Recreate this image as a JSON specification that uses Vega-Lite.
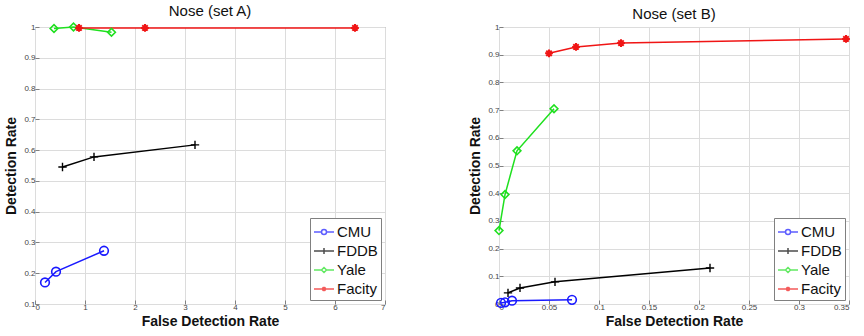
{
  "$schema": "https://vega.github.io/schema/vega-lite/v6.json",
  "padding": {"left": 4, "top": 3, "right": 8, "bottom": 2},
  "background": "white",
  "spacing": 82,
  "config": {
    "font": "Liberation Sans",
    "view": {"stroke": "#808080", "strokeWidth": 1},
    "axis": {
      "gridColor": "#dcdcdc", "gridWidth": 1, "domain": false,
      "tickColor": "#808080", "tickSize": -4,
      "labelFontSize": 8, "labelColor": "#444444",
      "titleFontSize": 14, "titleFontWeight": "bold", "titleColor": "#111111"
    },
    "title": {"fontSize": 15, "fontWeight": "normal", "color": "#111111", "offset": 1},
    "legend": {"title": null, "orient": "bottom-right", "offset": 4, "strokeColor": "#808080", "fillColor": "white", "padding": 3, "labelFontSize": 15, "labelColor": "#111111", "symbolSize": 400, "symbolStrokeWidth": 1.5, "labelOffset": 2, "rowPadding": 0}
  },
  "datasets": {
    "a": [
      {"series": "CMU", "i": 1, "x": 0.2, "y": 0.17},
      {"series": "CMU", "i": 2, "x": 0.42, "y": 0.205},
      {"series": "CMU", "i": 3, "x": 1.38, "y": 0.273},
      {"series": "FDDB", "i": 1, "x": 0.55, "y": 0.545},
      {"series": "FDDB", "i": 2, "x": 1.18, "y": 0.578},
      {"series": "FDDB", "i": 3, "x": 3.2, "y": 0.617},
      {"series": "Yale", "i": 1, "x": 0.38, "y": 0.995},
      {"series": "Yale", "i": 2, "x": 0.77, "y": 1.0},
      {"series": "Yale", "i": 3, "x": 1.53, "y": 0.983},
      {"series": "Facity", "i": 1, "x": 0.88, "y": 0.997},
      {"series": "Facity", "i": 2, "x": 2.2, "y": 0.997},
      {"series": "Facity", "i": 3, "x": 6.4, "y": 0.997}
    ],
    "b": [
      {"series": "CMU", "i": 1, "x": 0.002, "y": 0.004},
      {"series": "CMU", "i": 2, "x": 0.006, "y": 0.006},
      {"series": "CMU", "i": 3, "x": 0.013, "y": 0.012},
      {"series": "CMU", "i": 4, "x": 0.073, "y": 0.015},
      {"series": "FDDB", "i": 1, "x": 0.009, "y": 0.04},
      {"series": "FDDB", "i": 2, "x": 0.021, "y": 0.058},
      {"series": "FDDB", "i": 3, "x": 0.056, "y": 0.08},
      {"series": "FDDB", "i": 4, "x": 0.211, "y": 0.13},
      {"series": "Yale", "i": 1, "x": 0.0, "y": 0.265},
      {"series": "Yale", "i": 2, "x": 0.006, "y": 0.395},
      {"series": "Yale", "i": 3, "x": 0.018, "y": 0.553},
      {"series": "Yale", "i": 4, "x": 0.055, "y": 0.705},
      {"series": "Facity", "i": 1, "x": 0.05, "y": 0.905},
      {"series": "Facity", "i": 2, "x": 0.077, "y": 0.928},
      {"series": "Facity", "i": 3, "x": 0.122, "y": 0.942},
      {"series": "Facity", "i": 4, "x": 0.347, "y": 0.957}
    ]
  },
  "resolve": {"scale": {"color": "independent", "shape": "independent"}, "legend": {"color": "independent", "shape": "independent"}},
  "hconcat": [
    {
      "title": "Nose (set A)",
      "width": 350, "height": 277,
      "data": {"name": "a"},
      "encoding": {
        "x": {"field": "x", "type": "quantitative", "scale": {"domain": [0, 7], "nice": false, "zero": false}, "axis": {"title": "False Detection Rate", "values": [0,1,2,3,4,5,6,7], "format": "~g", "labelPadding": 3, "titlePadding": 3}},
        "y": {"field": "y", "type": "quantitative", "scale": {"domain": [0.1, 1], "nice": false, "zero": false}, "axis": {"title": "Detection Rate", "values": [0.1,0.2,0.3,0.4,0.5,0.6,0.7,0.8,0.9,1], "format": "~g", "labelPadding": 4, "titlePadding": 5}},
        "color": {"field": "series", "type": "nominal", "scale": {"domain": ["CMU", "FDDB", "Yale", "Facity"], "range": ["#1a1aff", "#000000", "#1fe01f", "#f01515"]}}
      },
      "layer": [
        {"mark": {"type": "point", "filled": false, "size": 0, "strokeWidth": 1.5},
          "encoding": {"shape": {"field": "series", "type": "nominal", "scale": {"domain": ["CMU", "FDDB", "Yale", "Facity"], "range": ["M-1,0H-0.25M0.25,0H1M-0.25,0A0.25,0.25 0 1,0 0.25,0A0.25,0.25 0 1,0 -0.25,0", "M-1,0H1M0,-0.3V0.3", "M-1,0H-0.25M0.25,0H1M0,-0.25L0.25,0L0,0.25L-0.25,0Z", "M-1,0H1M0,-0.22V0.22M-0.16,-0.16L0.16,0.16M-0.16,0.16L0.16,-0.16"]}}}},
        {"mark": {"type": "line", "strokeWidth": 1.5}, "encoding": {"order": {"field": "i"}}},
        {"transform": [{"filter": "datum.series === 'CMU'"}], "mark": {"type": "point", "shape": "circle", "filled": false, "strokeWidth": 1.6, "size": 75, "opacity": 1}},
        {"transform": [{"filter": "datum.series === 'FDDB'"}], "mark": {"type": "point", "shape": "M-1,0H1M0,-1V1", "filled": false, "strokeWidth": 1.4, "size": 70, "opacity": 1}},
        {"transform": [{"filter": "datum.series === 'Yale'"}], "mark": {"type": "point", "shape": "diamond", "filled": false, "strokeWidth": 1.6, "size": 60, "opacity": 1}},
        {"transform": [{"filter": "datum.series === 'Facity'"}], "mark": {"type": "point", "shape": "M-1,0H1M0,-1V1M-0.7,-0.7L0.7,0.7M-0.7,0.7L0.7,-0.7", "filled": false, "strokeWidth": 2, "size": 60, "opacity": 1}}
      ]
    },
    {
      "title": "Nose (set B)",
      "width": 350, "height": 277,
      "data": {"name": "b"},
      "encoding": {
        "x": {"field": "x", "type": "quantitative", "scale": {"domain": [0, 0.35], "nice": false, "zero": false}, "axis": {"title": "False Detection Rate", "values": [0,0.05,0.1,0.15,0.2,0.25,0.3,0.35], "format": "~g", "labelPadding": 3, "titlePadding": 3}},
        "y": {"field": "y", "type": "quantitative", "scale": {"domain": [0, 1], "nice": false, "zero": false}, "axis": {"title": "Detection Rate", "values": [0,0.1,0.2,0.3,0.4,0.5,0.6,0.7,0.8,0.9,1], "format": "~g", "labelPadding": 4, "titlePadding": 5}},
        "color": {"field": "series", "type": "nominal", "scale": {"domain": ["CMU", "FDDB", "Yale", "Facity"], "range": ["#1a1aff", "#000000", "#1fe01f", "#f01515"]}}
      },
      "layer": [
        {"mark": {"type": "point", "filled": false, "size": 0, "strokeWidth": 1.5},
          "encoding": {"shape": {"field": "series", "type": "nominal", "scale": {"domain": ["CMU", "FDDB", "Yale", "Facity"], "range": ["M-1,0H-0.25M0.25,0H1M-0.25,0A0.25,0.25 0 1,0 0.25,0A0.25,0.25 0 1,0 -0.25,0", "M-1,0H1M0,-0.3V0.3", "M-1,0H-0.25M0.25,0H1M0,-0.25L0.25,0L0,0.25L-0.25,0Z", "M-1,0H1M0,-0.22V0.22M-0.16,-0.16L0.16,0.16M-0.16,0.16L0.16,-0.16"]}}}},
        {"mark": {"type": "line", "strokeWidth": 1.5}, "encoding": {"order": {"field": "i"}}},
        {"transform": [{"filter": "datum.series === 'CMU'"}], "mark": {"type": "point", "shape": "circle", "filled": false, "strokeWidth": 1.6, "size": 75, "opacity": 1}},
        {"transform": [{"filter": "datum.series === 'FDDB'"}], "mark": {"type": "point", "shape": "M-1,0H1M0,-1V1", "filled": false, "strokeWidth": 1.4, "size": 70, "opacity": 1}},
        {"transform": [{"filter": "datum.series === 'Yale'"}], "mark": {"type": "point", "shape": "diamond", "filled": false, "strokeWidth": 1.6, "size": 60, "opacity": 1}},
        {"transform": [{"filter": "datum.series === 'Facity'"}], "mark": {"type": "point", "shape": "M-1,0H1M0,-1V1M-0.7,-0.7L0.7,0.7M-0.7,0.7L0.7,-0.7", "filled": false, "strokeWidth": 2, "size": 60, "opacity": 1}}
      ]
    }
  ]
}
